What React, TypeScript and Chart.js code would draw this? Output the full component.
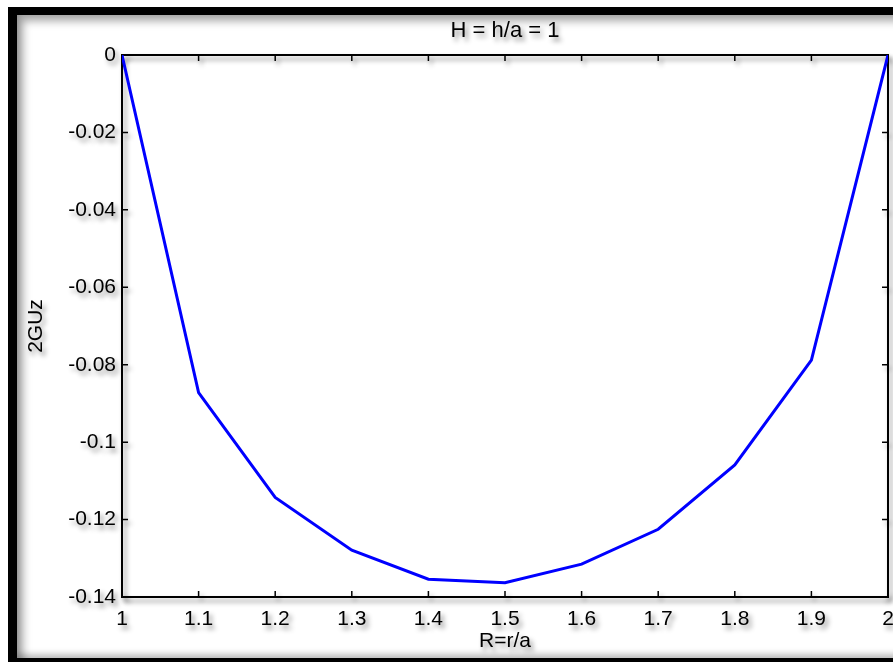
import React, { useEffect, useRef } from "react";
import { Chart, registerables } from "chart.js";

Chart.register(...registerables);

const xValues = [1, 1.1, 1.2, 1.3, 1.4, 1.5, 1.6, 1.7, 1.8, 1.9, 2];
const uzValues = [0, -0.0872, -0.1143, -0.1279, -0.1354, -0.1363, -0.1315, -0.1225, -0.1059, -0.0788, 0];

const xTicks = [1, 1.1, 1.2, 1.3, 1.4, 1.5, 1.6, 1.7, 1.8, 1.9, 2];
const xTickLabels = ["1", "1.1", "1.2", "1.3", "1.4", "1.5", "1.6", "1.7", "1.8", "1.9", "2"];
const yTicks = [0, -0.02, -0.04, -0.06, -0.08, -0.1, -0.12, -0.14];
const yTickLabels = ["0", "-0.02", "-0.04", "-0.06", "-0.08", "-0.1", "-0.12", "-0.14"];

const chartTitle = "H = h/a = 1";
const xTitle = "R=r/a";
const yTitle = "2GUz";

const FONT = "'Liberation Sans', Arial, sans-serif";

const framePlugin = {
  id: "matlabFrame",
  beforeDraw(chart: any) {
    const ctx = chart.ctx;
    ctx.save();
    ctx.shadowColor = "rgba(0,0,0,0.45)";
    ctx.shadowBlur = 5;
    ctx.shadowOffsetX = 3;
    ctx.shadowOffsetY = 4;
  },
  beforeDatasetsDraw(chart: any) {
    const ctx = chart.ctx;
    const { left, right, top, bottom } = chart.chartArea;
    const xs = chart.scales.x;
    const ys = chart.scales.y;
    const tl = 6;
    ctx.save();
    ctx.strokeStyle = "#000";
    ctx.lineWidth = 2;
    ctx.strokeRect(left, top, right - left, bottom - top);
    ctx.lineWidth = 1.5;
    ctx.beginPath();
    xTicks.forEach((v) => {
      const px = xs.getPixelForValue(v);
      ctx.moveTo(px, bottom);
      ctx.lineTo(px, bottom - tl);
      ctx.moveTo(px, top);
      ctx.lineTo(px, top + tl);
    });
    yTicks.forEach((v) => {
      const py = ys.getPixelForValue(v);
      ctx.moveTo(left, py);
      ctx.lineTo(left + tl, py);
      ctx.moveTo(right, py);
      ctx.lineTo(right - tl, py);
    });
    ctx.stroke();
    ctx.restore();
    ctx.restore();
  },
};

export default function App() {
  const ref = useRef<HTMLCanvasElement | null>(null);

  useEffect(() => {
    if (!ref.current) return;
    const chart = new Chart(ref.current, {
      type: "line",
      data: {
        datasets: [
          {
            data: xValues.map((x, i) => ({ x, y: uzValues[i] })),
            borderColor: "#0000ff",
            borderWidth: 3,
            pointRadius: 0,
            fill: false,
            tension: 0,
          },
        ],
      },
      options: {
        animation: false,
        responsive: false,
        layout: { padding: { left: 0, right: 5, top: 0, bottom: 0 } },
        plugins: {
          legend: { display: false },
          tooltip: { enabled: false },
          title: {
            display: true,
            text: chartTitle,
            fullSize: false,
            color: "#000",
            font: { family: FONT, size: 22, weight: "normal" },
            padding: { top: 17.8, bottom: 10.8 },
          },
        },
        scales: {
          x: {
            type: "linear",
            min: 1,
            max: 2,
            afterBuildTicks: (s: any) => {
              s.ticks = xTicks.map((v) => ({ value: v }));
            },
            afterFit: (s: any) => {
              s.height = 65;
              s.paddingLeft = 0;
              s.paddingRight = 0;
            },
            grid: { display: false, drawTicks: false },
            border: { display: false },
            ticks: {
              color: "#000",
              padding: 10,
              maxRotation: 0,
              autoSkip: false,
              font: { family: FONT, size: 21 },
              callback: (_v: any, i: number) => xTickLabels[i],
            },
            title: {
              display: true,
              text: xTitle,
              color: "#000",
              font: { family: FONT, size: 21 },
              padding: { top: 0, bottom: 8 },
            },
          },
          y: {
            type: "linear",
            min: -0.14,
            max: 0,
            afterBuildTicks: (s: any) => {
              s.ticks = yTicks.map((v) => ({ value: v }));
            },
            afterFit: (s: any) => {
              s.width = 122;
              s.paddingTop = 0;
              s.paddingBottom = 0;
            },
            grid: { display: false, drawTicks: false },
            border: { display: false },
            ticks: {
              color: "#000",
              padding: 6,
              autoSkip: false,
              font: { family: FONT, size: 21 },
              callback: (_v: any, i: number) => yTickLabels[i],
            },
            title: {
              display: true,
              text: yTitle,
              color: "#000",
              font: { family: FONT, size: 21 },
              padding: { top: 24, bottom: 0 },
            },
          },
        },
      },
      plugins: [framePlugin],
    } as any);
    return () => chart.destroy();
  }, []);

  return (
    <div style={{ position: "absolute", left: 0, top: 0, width: 893, height: 662, overflow: "hidden", background: "#fff" }}>
      <div
        style={{
          position: "absolute",
          left: 8,
          top: 7,
          width: 920,
          height: 655,
          boxSizing: "border-box",
          borderLeft: "9px solid #000",
          borderTop: "8px solid #000",
          borderBottom: "4px solid #000",
          boxShadow: "inset 6px 6px 9px rgba(0,0,0,0.35), inset 0 -4px 6px rgba(0,0,0,0.25)",
          background: "#fff",
        }}
      />
      <canvas ref={ref} width={893} height={662} style={{ position: "absolute", left: 0, top: 0, width: 893, height: 662 }} />
    </div>
  );
}
